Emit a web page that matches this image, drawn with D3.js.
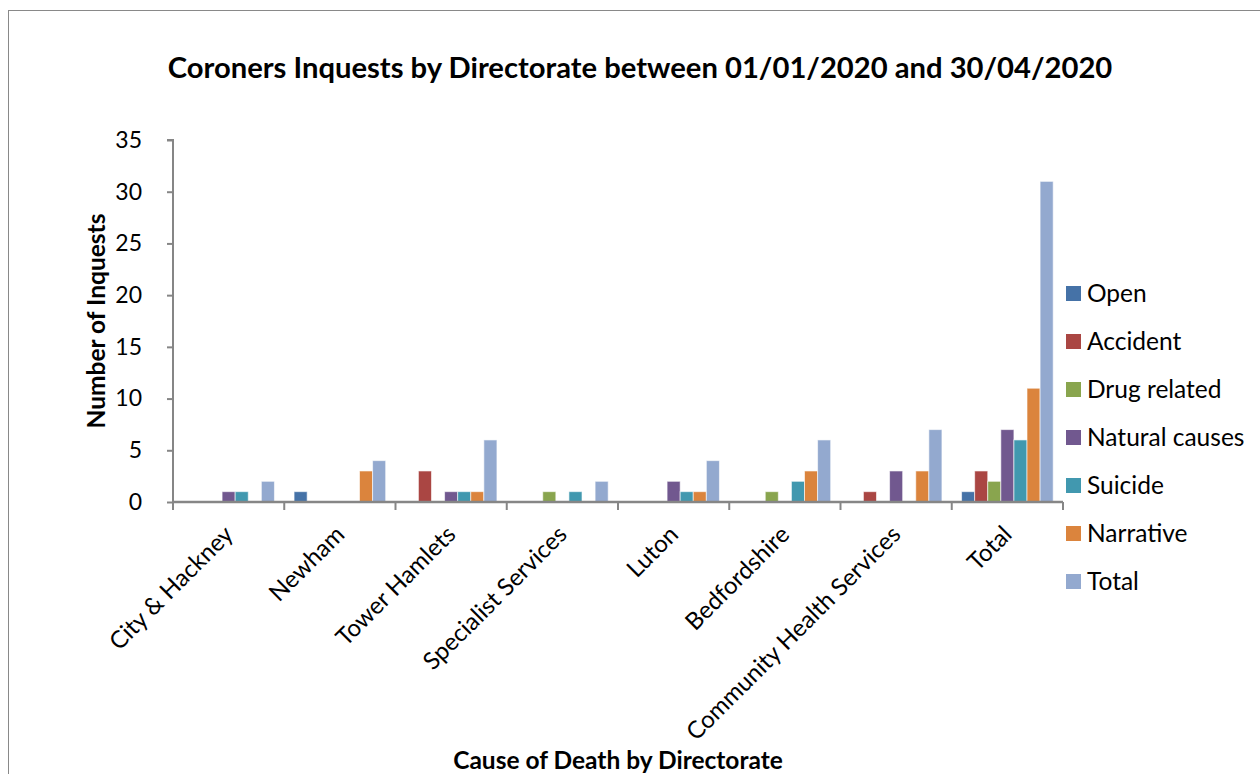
<!DOCTYPE html>
<html><head><meta charset="utf-8">
<script src="https://cdn.jsdelivr.net/npm/d3@7"></script>
<style>body{margin:0;background:#fff}svg{display:block}</style>
</head><body>
<svg id="c" width="1260" height="774"></svg>
<script>
const categories = ["City & Hackney","Newham","Tower Hamlets","Specialist Services","Luton","Bedfordshire","Community Health Services","Total"];
const seriesNames = ["Open","Accident","Drug related","Natural causes","Suicide","Narrative","Total"];
const open        = [0,1,0,0,0,0,0,1];
const accident    = [0,0,3,0,0,0,1,3];
const drugRelated = [0,0,0,1,0,1,0,2];
const natural     = [1,0,1,0,2,0,3,7];
const suicide     = [1,0,1,1,1,2,0,6];
const narrative   = [0,3,1,0,1,3,3,11];
const total       = [2,4,6,2,4,6,7,31];
const yTicks = [0,5,10,15,20,25,30,35];
const colors = ["#4572A7","#AA4643","#89A54E","#71588F","#4198AF","#DB843D","#93A9CF"];
const seriesValues = [open,accident,drugRelated,natural,suicide,narrative,total];

const font = "Lato, 'Open Sans', sans-serif";
const svg = d3.select("#c");
// outer frame
svg.append("rect").attr("x",8.5).attr("y",10.5).attr("width",1270).attr("height",800)
  .attr("fill","#fff").attr("stroke","#898989").attr("stroke-width",1);

const L=173, R=1063, T=140, B=502;
const x0 = d3.scaleBand().domain(categories).range([L,R]).padding(0);
const x1 = d3.scaleBand().domain(seriesNames).range([0,x0.bandwidth()]).paddingOuter(0.75).paddingInner(0);
const y = d3.scaleLinear().domain([0,35]).range([B,T]);

// bars
const g = svg.append("g");
seriesNames.forEach((s,si)=>{
  g.selectAll(null).data(categories.map((c,ci)=>({c,v:seriesValues[si][ci]})).filter(d=>d.v>0))
   .enter().append("rect")
   .attr("x",d=>x0(d.c)+x1(s)).attr("width",x1.bandwidth())
   .attr("y",d=>y(d.v)).attr("height",d=>B-y(d.v))
   .attr("fill",colors[si]).attr("stroke","rgba(255,255,255,0.6)").attr("stroke-width",1);
});

// y axis
const ya = svg.append("g").attr("transform",`translate(${L},0)`)
  .call(d3.axisLeft(y).tickValues(yTicks).tickSize(6).tickPadding(25).tickFormat(d3.format("d")));
ya.select(".domain").attr("stroke","#868686").attr("stroke-width",2).attr("d",`M-6,${T}H0V${B}`);
ya.selectAll(".tick line").attr("stroke","#868686").attr("stroke-width",2);
ya.selectAll(".tick text").attr("font-family",font).attr("font-size",23).attr("fill","#000");

// x axis
const xa = svg.append("g").attr("transform",`translate(0,${B})`);
xa.append("line").attr("x1",L).attr("x2",R).attr("y1",0).attr("y2",0).attr("stroke","#868686").attr("stroke-width",2.5);
const tickXs = categories.map(c=>x0(c)).concat([R]);
xa.selectAll(".tk").data(tickXs).enter().append("line")
  .attr("x1",d=>d).attr("x2",d=>d).attr("y1",0).attr("y2",8).attr("stroke","#868686").attr("stroke-width",2);
xa.selectAll(".lbl").data(categories).enter().append("text")
  .attr("transform",d=>`translate(${x0(d)+x0.bandwidth()/2+6},${34}) rotate(-45)`)
  .attr("text-anchor","end").attr("font-family",font).attr("font-size",24).attr("fill","#000")
  .text(d=>d);

// title
svg.append("text").attr("x",640).attr("y",78).attr("text-anchor","middle")
  .attr("font-family",font).attr("font-weight","bold").attr("font-size",29.2).attr("fill","#000")
  .text("Coroners Inquests by Directorate between 01/01/2020 and 30/04/2020");
// axis titles
svg.append("text").attr("transform","translate(105,321) rotate(-90)").attr("text-anchor","middle")
  .attr("font-family",font).attr("font-weight","bold").attr("font-size",24.5).attr("fill","#000")
  .text("Number of Inquests");
svg.append("text").attr("x",618).attr("y",769).attr("text-anchor","middle")
  .attr("font-family",font).attr("font-weight","bold").attr("font-size",24.5).attr("fill","#000")
  .text("Cause of Death by Directorate");

// legend
const lg = svg.append("g");
seriesNames.forEach((s,i)=>{
  const yy = 293 + i*48;
  lg.append("rect").attr("x",1066).attr("y",yy-7).attr("width",15).attr("height",15).attr("fill",colors[i]);
  lg.append("text").attr("x",1087).attr("y",yy+9).attr("font-family",font).attr("font-size",24.5).attr("fill","#000").text(s);
});
</script>
</body></html>
